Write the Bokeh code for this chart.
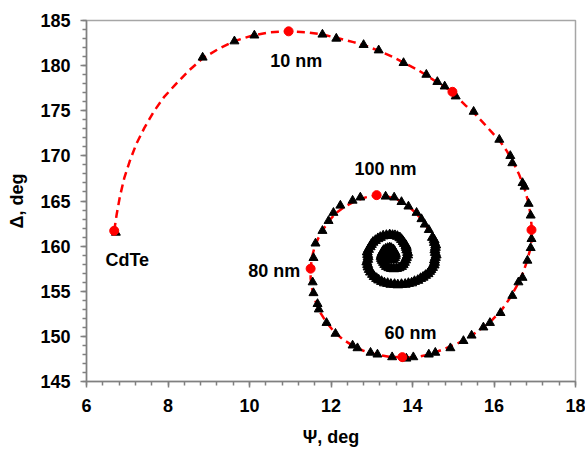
from bokeh.plotting import figure
from bokeh.models import Range1d, SingleIntervalTicker, ColumnDataSource
from bokeh.embed import file_html
from bokeh.resources import INLINE
from bokeh.core.properties import value

# Modelled (Psi, Delta) trajectory of the growing film, starting on bare CdTe
fit_psi = [6.68, 6.74, 6.82, 6.93, 7.06, 7.22, 7.42, 7.65, 7.90, 8.18, 8.50, 8.85,
           9.22, 9.62, 10.08, 10.52, 10.96, 11.40, 11.80, 12.20, 12.55, 12.85, 13.20,
           13.50, 13.80, 14.10, 14.35, 14.62, 14.80, 14.98, 15.12, 15.30, 15.52, 15.75,
           15.95, 16.15, 16.32, 16.48, 16.62, 16.74, 16.84, 16.90, 16.93, 16.92, 16.88,
           16.80, 16.70, 16.56, 16.40, 16.20, 15.95, 15.70, 15.42, 15.10, 14.78, 14.42,
           14.08, 13.75, 13.42, 13.10, 12.80, 12.52, 12.28, 12.06, 11.88, 11.73, 11.62,
           11.54, 11.50, 11.50, 11.53, 11.59, 11.68, 11.80, 11.95, 12.13, 12.35, 12.60,
           12.85, 13.12, 13.38, 13.62, 13.85, 14.05, 14.22, 14.36, 14.46, 14.54, 14.56,
           14.55, 14.48, 14.34, 14.15, 13.90, 13.62, 13.35, 13.12, 12.98, 12.90, 12.90,
           12.95, 13.08, 13.28, 13.52, 13.72, 13.84, 13.88, 13.84, 13.72, 13.52, 13.35,
           13.25, 13.26, 13.38, 13.52, 13.57, 13.46]
fit_delta = [161.7, 163.5, 165.5, 167.6, 169.4, 171.3, 173.1, 174.9, 176.5, 177.9, 179.4,
             180.8, 181.8, 182.7, 183.35, 183.7, 183.8, 183.7, 183.45, 183.0, 182.6, 182.2,
             181.6, 181.0, 180.3, 179.6, 178.9, 178.1, 177.6, 177.1, 176.4, 175.6, 174.7,
             173.6, 172.6, 171.6, 170.5, 169.2, 167.9, 166.5, 164.9, 163.4, 161.8, 160.6,
             159.5, 158.2, 156.9, 155.6, 154.3, 153.0, 151.8, 150.9, 150.0, 149.2, 148.6,
             148.0, 147.7, 147.65, 147.75, 148.0, 148.4, 149.0, 149.7, 150.6, 151.6, 152.7,
             153.9, 155.2, 156.4, 157.5, 158.7, 159.8, 160.8, 161.8, 162.8, 163.7, 164.4,
             165.0, 165.4, 165.65, 165.5, 165.2, 164.6, 163.8, 163.0, 162.1, 161.2, 160.3,
             159.3, 158.5, 157.6, 156.8, 156.3, 155.9, 155.75, 155.9, 156.4, 157.0, 157.9,
             158.9, 159.8, 160.5, 161.1, 161.2, 160.8, 160.1, 159.3, 158.4, 157.8, 157.5,
             157.8, 158.4, 159.2, 159.7, 159.7, 159.1, 158.7]

# Measured (Psi, Delta) points, first 0-100 nm
meas_psi = [6.72, 8.85, 9.63, 10.12, 11.79, 12.13, 12.80, 13.17, 13.78, 14.34, 14.61,
            14.79, 15.06, 15.50, 16.13, 16.40, 16.45, 16.70, 16.75, 16.85, 16.90, 16.92,
            16.90, 16.82, 16.70, 16.60, 16.45, 16.16, 15.90, 15.74, 15.45, 15.25, 14.93,
            14.56, 14.40, 14.02, 13.85, 13.50, 13.14, 12.97, 12.65, 12.53, 12.11, 11.89,
            11.70, 11.67, 11.57, 11.55, 11.57, 11.62, 11.79, 11.94, 12.06, 12.23, 12.53,
            12.72, 13.34, 13.55, 13.73, 13.90, 14.10, 14.22, 14.30, 14.40]
meas_delta = [161.5, 180.9, 182.7, 183.35, 183.45, 183.0, 182.3, 181.7, 180.3, 179.0, 178.2,
              177.7, 176.6, 174.9, 171.8, 170.0, 169.2, 167.0, 166.6, 164.7, 163.4, 160.8,
              159.8, 158.4, 156.5, 156.0, 154.5, 152.6, 151.5, 151.0, 150.1, 149.5, 148.7,
              148.2, 148.0, 147.7, 147.55, 147.7, 148.0, 148.2, 148.7, 149.0, 150.3, 151.5,
              153.0, 153.6, 154.8, 156.0, 158.7, 160.3, 161.7, 162.8, 163.7, 164.5, 165.05,
              165.4, 165.5, 165.4, 164.9, 164.4, 163.7, 163.0, 162.4, 161.8]

# Measured points beyond 100 nm, densely packed in the inner spiral
core_psi = [14.49, 14.53, 14.54, 14.57, 14.56, 14.55, 14.56, 14.58, 14.56, 14.54, 14.54,
            14.53, 14.49, 14.45, 14.42, 14.38, 14.32, 14.26, 14.20, 14.13, 14.05, 13.98,
            13.90, 13.82, 13.73, 13.64, 13.56, 13.47, 13.39, 13.31, 13.24, 13.17, 13.12,
            13.06, 13.02, 12.97, 12.94, 12.91, 12.90, 12.88, 12.90, 12.91, 12.90, 12.89,
            12.92, 12.96, 12.99, 13.03, 13.09, 13.15, 13.21, 13.28, 13.36, 13.44, 13.51,
            13.57, 13.63, 13.69, 13.73, 13.77, 13.80, 13.84, 13.85, 13.86, 13.88, 13.88,
            13.85, 13.83, 13.80, 13.77, 13.73, 13.67, 13.61, 13.54, 13.48, 13.42, 13.36,
            13.32, 13.29, 13.26, 13.24, 13.23, 13.24, 13.26, 13.29, 13.34, 13.39, 13.44,
            13.48, 13.53, 13.56, 13.58, 13.58, 13.56, 13.53, 13.48, 13.44, 13.40, 13.39,
            13.45, 13.40]
core_delta = [160.96, 160.68, 160.40, 160.12, 159.85, 159.57, 159.29, 159.01, 158.74,
              158.46, 158.19, 157.90, 157.63, 157.40, 157.19, 156.94, 156.75, 156.55,
              156.41, 156.20, 156.08, 155.92, 155.86, 155.76, 155.75, 155.70, 155.75,
              155.76, 155.86, 155.92, 156.08, 156.24, 156.41, 156.62, 156.86, 157.12,
              157.41, 157.68, 157.96, 158.24, 158.52, 158.80, 159.07, 159.35, 159.63,
              159.92, 160.18, 160.42, 160.62, 160.82, 160.96, 161.12, 161.18, 161.25,
              161.18, 161.16, 161.07, 160.92, 160.73, 160.50, 160.29, 160.06, 159.85,
              159.57, 159.29, 159.01, 158.74, 158.46, 158.19, 157.94, 157.74, 157.60,
              157.52, 157.48, 157.52, 157.60, 157.74, 157.96, 158.19, 158.41, 158.63,
              158.85, 159.07, 159.30, 159.52, 159.66, 159.74, 159.80, 159.74, 159.60,
              159.40, 159.18, 158.96, 158.72, 158.52, 158.45, 158.52, 158.68, 158.85,
              159.15, 158.95]

# Thickness markers on the model curve (0, 10, ..., 60, 80, 100 nm)
mark_psi = [6.68, 10.96, 14.98, 16.92, 13.75, 11.50, 13.12]
mark_delta = [161.7, 183.8, 177.1, 161.8, 147.7, 157.5, 165.65]

# Annotations
label_text = ["CdTe", "10 nm", "60 nm", "80 nm", "100 nm"]
label_psi = [7.00, 11.15, 13.95, 10.61, 13.34]
label_delta = [158.5, 180.46, 150.4, 157.2, 168.5]

FONT = "Liberation Sans"
AXIS_GREY = "#808080"

p = figure(width=585, height=449,
           x_range=Range1d(6, 18), y_range=Range1d(145, 185),
           output_backend="svg", toolbar_location=None,
           min_border_left=86, min_border_right=10,
           min_border_top=20, min_border_bottom=68)

p.xgrid.visible = False
p.ygrid.visible = False
p.outline_line_color = "#a6a6a6"
p.outline_line_width = 1.5
p.background_fill_color = "white"
p.border_fill_color = "white"

p.xaxis.ticker = SingleIntervalTicker(interval=2, num_minor_ticks=5)
p.yaxis.ticker = SingleIntervalTicker(interval=5, num_minor_ticks=5)

for ax in (p.xaxis[0], p.yaxis[0]):
    ax.axis_line_color = AXIS_GREY
    ax.axis_line_width = 1.5
    ax.major_tick_line_color = AXIS_GREY
    ax.minor_tick_line_color = AXIS_GREY
    ax.major_tick_line_width = 1.5
    ax.minor_tick_line_width = 1.5
    ax.major_tick_in = 0
    ax.major_tick_out = 6
    ax.minor_tick_in = 0
    ax.minor_tick_out = 4
    ax.major_label_text_font = FONT
    ax.major_label_text_font_style = "bold"
    ax.major_label_text_font_size = "18px"
    ax.major_label_text_color = "black"
    ax.axis_label_text_font = FONT
    ax.axis_label_text_font_style = "bold"
    ax.axis_label_text_font_size = "18px"
    ax.axis_label_text_color = "black"

p.xaxis.axis_label = "Ψ, deg"
p.yaxis.axis_label = "Δ, deg"
p.xaxis.major_label_standoff = 11
p.yaxis.major_label_standoff = 10
p.xaxis.axis_label_standoff = 12
p.yaxis.axis_label_standoff = 10

p.line(fit_psi, fit_delta, line_color="#ff0000", line_width=2.5, line_dash="8 5")
p.scatter(meas_psi, meas_delta, marker="triangle", size=9,
          fill_color="black", line_color="black")
p.scatter(core_psi, core_delta, marker="triangle", size=10,
          fill_color="black", line_color="black")
p.scatter(mark_psi, mark_delta, marker="circle", size=9,
          fill_color="#ff0000", line_color="#ff0000")

src = ColumnDataSource(dict(x=label_psi, y=label_delta, t=label_text))
p.text(x="x", y="y", text="t", source=src, text_font=value(FONT),
       text_font_style="bold", text_font_size="18px", text_color="black",
       text_align="center", text_baseline="middle")

open("out.html", "w").write(file_html(p, INLINE))
